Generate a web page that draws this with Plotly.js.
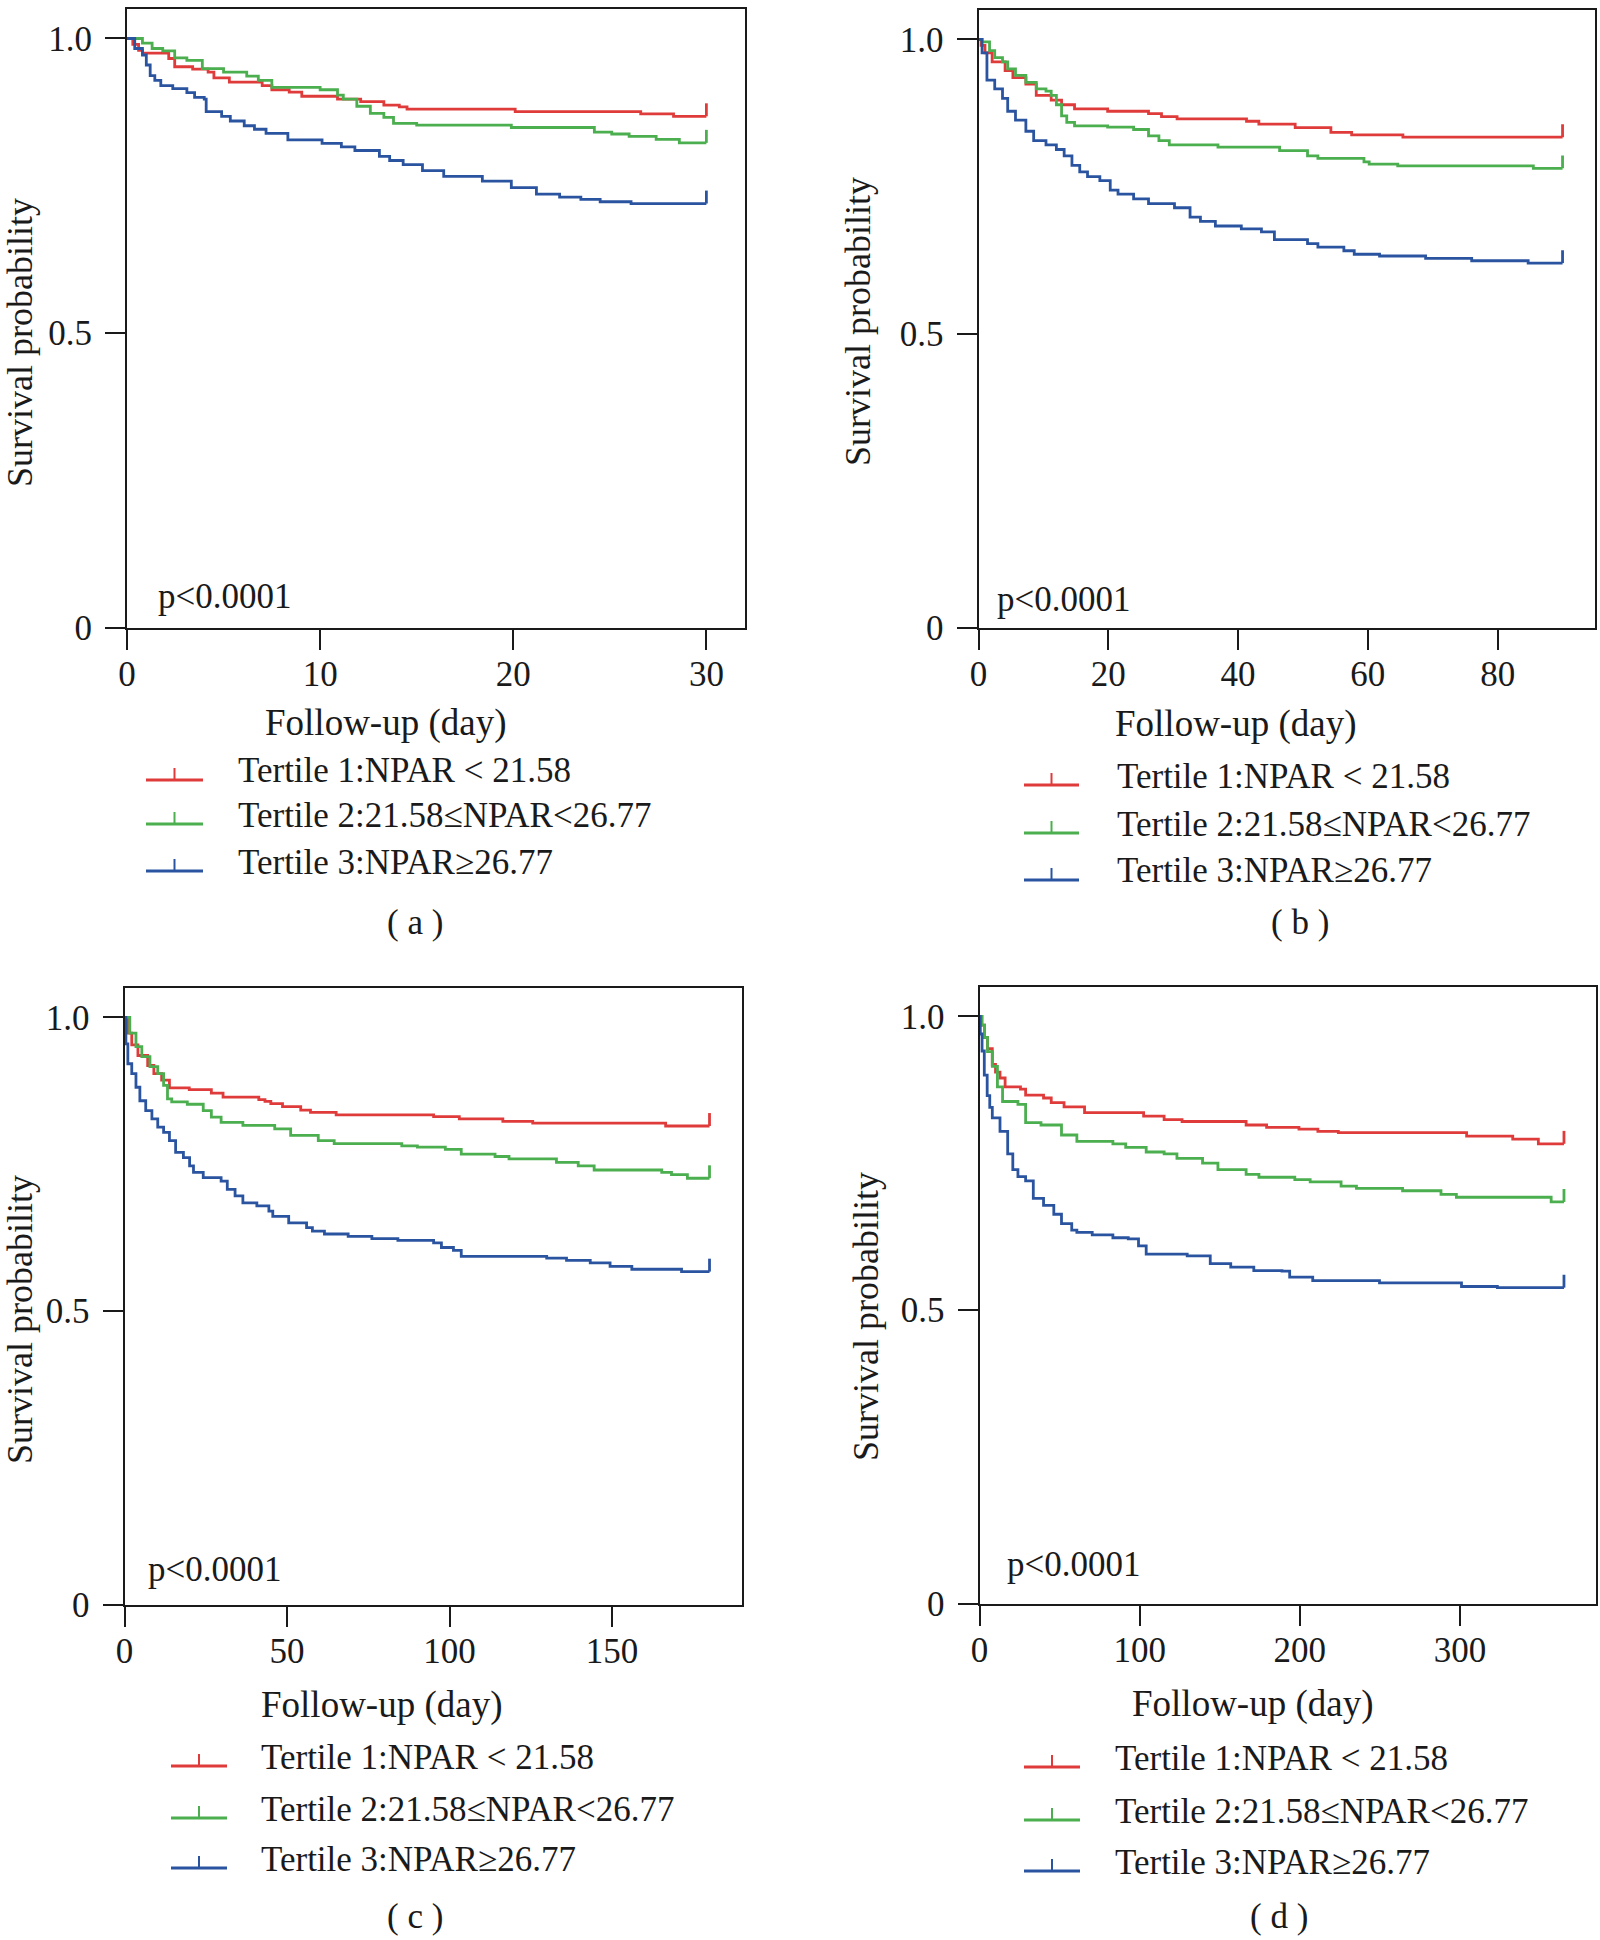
<!DOCTYPE html>
<html>
<head>
<meta charset="utf-8">
<script src="https://cdn.plot.ly/plotly-3.0.1.min.js"></script>
<style>
  body { margin: 0; background: #fff; }
  #plot { width: 1600px; height: 1940px; }
</style>
</head>
<body>
<div id="plot"></div>
<script>
// groups shared by all four panels
var groupNames = ["Tertile 1:NPAR < 21.58", "Tertile 2:21.58≤NPAR<26.77", "Tertile 3:NPAR≥26.77"];
var groupColors = ["#df3b3b", "#4bae4f", "#2b54a0"];
var panelLabels = ["( a )", "( b )", "( c )", "( d )"];
var pValueText = "p<0.0001";

// (a) 30-day follow-up
var a_t1_day  = [0, 0.3, 0.6, 0.8, 2.16, 2.47, 3.4, 4.2, 4.5, 5.3, 7.0, 7.5, 8.4, 9.05, 10.9, 12.1, 13.3, 14.1, 14.5, 20.1, 26.6, 28.3, 30];
var a_t1_surv = [1, 0.99, 0.98, 0.975, 0.966, 0.952, 0.948, 0.943, 0.933, 0.926, 0.92, 0.913, 0.909, 0.902, 0.897, 0.893, 0.887, 0.884, 0.88, 0.876, 0.872, 0.868, 0.868];
var a_t2_day  = [0, 0.8, 1.3, 1.85, 2.47, 3.1, 3.9, 5.0, 6.2, 6.8, 7.5, 10.0, 10.9, 11.2, 11.9, 12.6, 13.3, 13.8, 15.0, 19.9, 24.2, 25.1, 26.0, 27.4, 28.6, 30];
var a_t2_surv = [1, 0.992, 0.983, 0.979, 0.967, 0.963, 0.949, 0.943, 0.936, 0.929, 0.917, 0.913, 0.904, 0.897, 0.885, 0.873, 0.866, 0.856, 0.853, 0.849, 0.841, 0.838, 0.834, 0.829, 0.823, 0.823];
var a_t3_day  = [0, 0.4, 0.8, 1.0, 1.2, 1.44, 1.75, 2.37, 3.1, 3.5, 4.0, 4.1, 4.9, 5.35, 6.07, 6.6, 7.2, 8.33, 10.1, 11.1, 11.8, 13.07, 13.6, 14.3, 15.3, 16.4, 18.4, 19.9, 21.2, 22.4, 23.5, 24.5, 26.1, 30];
var a_t3_surv = [1, 0.983, 0.972, 0.955, 0.937, 0.929, 0.92, 0.915, 0.908, 0.9, 0.897, 0.876, 0.868, 0.86, 0.852, 0.846, 0.839, 0.828, 0.822, 0.816, 0.81, 0.8, 0.793, 0.786, 0.776, 0.766, 0.758, 0.747, 0.736, 0.731, 0.727, 0.723, 0.72, 0.72];

// (b) 90-day follow-up
var b_t1_day  = [0, 0.4, 1.0, 2.1, 4.1, 5.3, 7.3, 8.9, 11.2, 12.8, 14.8, 19.9, 26.2, 28.2, 30.6, 41.3, 43.2, 48.8, 54.3, 57.5, 65.4, 90];
var b_t1_surv = [1, 0.99, 0.977, 0.962, 0.947, 0.935, 0.924, 0.905, 0.897, 0.889, 0.882, 0.878, 0.874, 0.869, 0.865, 0.861, 0.856, 0.85, 0.842, 0.838, 0.834, 0.834];
var b_t2_day  = [0, 0.55, 1.7, 2.5, 3.7, 4.5, 5.7, 7.3, 8.9, 10.4, 11.2, 12.0, 12.8, 13.6, 14.8, 19.9, 23.9, 26.2, 27.8, 29.4, 36.9, 46.4, 50.7, 52.3, 59.4, 60.2, 64.6, 85.5, 90];
var b_t2_surv = [1, 0.996, 0.981, 0.969, 0.962, 0.95, 0.939, 0.927, 0.916, 0.912, 0.905, 0.889, 0.87, 0.859, 0.853, 0.851, 0.847, 0.836, 0.828, 0.821, 0.817, 0.811, 0.802, 0.798, 0.792, 0.788, 0.785, 0.781, 0.781];
var b_t3_day  = [0, 0.55, 1.3, 2.5, 3.7, 4.5, 5.7, 7.3, 8.5, 10.4, 12.0, 13.2, 14.4, 15.6, 16.8, 18.7, 20.3, 21.5, 23.9, 26.2, 30.2, 32.6, 34.2, 36.5, 40.5, 43.6, 45.6, 50.7, 52.3, 56.3, 57.9, 61.8, 68.9, 76.0, 84.7, 90];
var b_t3_surv = [1, 0.977, 0.931, 0.916, 0.9, 0.878, 0.863, 0.844, 0.828, 0.821, 0.813, 0.802, 0.786, 0.775, 0.767, 0.76, 0.744, 0.737, 0.729, 0.721, 0.714, 0.698, 0.691, 0.683, 0.678, 0.673, 0.66, 0.653, 0.647, 0.641, 0.635, 0.632, 0.628, 0.624, 0.62, 0.62];

// (c) 180-day follow-up
var c_t1_day  = [0, 1.0, 2.2, 4.1, 7.1, 9.0, 11.4, 13.8, 19.9, 26.7, 30.3, 41.3, 43.2, 45.0, 48.6, 54.2, 57.2, 65.1, 95.1, 103.0, 116.4, 125.6, 166.5, 180];
var c_t1_surv = [1, 0.973, 0.953, 0.935, 0.918, 0.904, 0.893, 0.88, 0.877, 0.871, 0.864, 0.86, 0.857, 0.853, 0.848, 0.842, 0.838, 0.834, 0.831, 0.827, 0.823, 0.82, 0.815, 0.815];
var c_t2_day  = [0, 1.6, 3.5, 5.3, 7.8, 10.2, 12.0, 13.2, 14.5, 19.3, 24.2, 26.7, 29.7, 36.4, 46.2, 51.1, 59.6, 64.5, 85.3, 90.1, 98.7, 103.6, 114.0, 118.3, 132.9, 139.6, 144.5, 165.3, 168.3, 173.2, 180];
var c_t2_surv = [1, 0.973, 0.95, 0.933, 0.916, 0.904, 0.884, 0.861, 0.856, 0.852, 0.841, 0.83, 0.821, 0.816, 0.81, 0.799, 0.79, 0.785, 0.781, 0.779, 0.775, 0.767, 0.763, 0.759, 0.753, 0.747, 0.74, 0.736, 0.732, 0.726, 0.726];
var c_t3_day  = [0, 0.4, 1.0, 2.2, 3.5, 4.7, 6.5, 8.4, 10.2, 12.0, 13.8, 15.7, 18.1, 20.0, 21.2, 24.2, 29.7, 31.6, 34.0, 36.4, 40.7, 44.4, 45.6, 50.5, 56.0, 57.8, 61.5, 68.8, 76.1, 84.1, 95.1, 97.5, 101.2, 103.6, 129.9, 136.0, 143.3, 149.4, 156.1, 171.4, 180];
var c_t3_surv = [1, 0.955, 0.921, 0.904, 0.881, 0.858, 0.841, 0.827, 0.813, 0.804, 0.79, 0.77, 0.761, 0.747, 0.736, 0.727, 0.721, 0.707, 0.696, 0.684, 0.679, 0.67, 0.661, 0.65, 0.642, 0.636, 0.631, 0.627, 0.623, 0.62, 0.616, 0.608, 0.603, 0.593, 0.59, 0.586, 0.582, 0.576, 0.571, 0.567, 0.567];

// (d) 365-day follow-up
var d_t1_day  = [0, 1.5, 3.2, 5.0, 8.0, 10.0, 12.8, 16.0, 25.6, 28.8, 40.0, 44.8, 52.8, 65.6, 102.5, 115.3, 126.5, 166.5, 179.3, 199.5, 211.3, 224.1, 304.2, 333.0, 349.0, 365];
var d_t1_surv = [1, 0.985, 0.964, 0.945, 0.918, 0.905, 0.895, 0.88, 0.876, 0.866, 0.861, 0.853, 0.846, 0.836, 0.83, 0.824, 0.821, 0.815, 0.811, 0.808, 0.804, 0.802, 0.796, 0.791, 0.783, 0.783];
var d_t2_day  = [0, 1.5, 3.2, 5.0, 8.0, 11.2, 14.4, 24.0, 28.8, 38.4, 51.2, 60.8, 83.3, 91.3, 104.1, 115.3, 123.3, 139.3, 148.9, 166.5, 174.5, 196.9, 206.5, 225.8, 235.4, 264.2, 288.2, 297.8, 357.0, 365];
var d_t2_surv = [1, 0.985, 0.964, 0.94, 0.915, 0.88, 0.855, 0.85, 0.819, 0.815, 0.798, 0.787, 0.783, 0.777, 0.769, 0.766, 0.758, 0.75, 0.739, 0.731, 0.726, 0.722, 0.718, 0.711, 0.707, 0.703, 0.697, 0.692, 0.684, 0.684];
var d_t3_day  = [0, 0.5, 1.6, 3.0, 4.8, 6.4, 8.0, 12.8, 17.6, 20.8, 24.0, 28.8, 33.6, 40.0, 46.4, 51.2, 57.6, 60.8, 70.4, 83.3, 92.9, 99.3, 104.1, 129.7, 144.1, 156.9, 171.3, 188.9, 193.7, 208.1, 249.8, 301.0, 323.4, 365];
var d_t3_surv = [1, 0.97, 0.941, 0.9, 0.865, 0.845, 0.827, 0.804, 0.766, 0.739, 0.727, 0.72, 0.69, 0.678, 0.663, 0.647, 0.636, 0.632, 0.628, 0.623, 0.621, 0.609, 0.595, 0.592, 0.579, 0.573, 0.567, 0.566, 0.556, 0.55, 0.546, 0.54, 0.538, 0.538];

var panelDays = [[a_t1_day, a_t2_day, a_t3_day], [b_t1_day, b_t2_day, b_t3_day], [c_t1_day, c_t2_day, c_t3_day], [d_t1_day, d_t2_day, d_t3_day]];
var panelSurv = [[a_t1_surv, a_t2_surv, a_t3_surv], [b_t1_surv, b_t2_surv, b_t3_surv], [c_t1_surv, c_t2_surv, c_t3_surv], [d_t1_surv, d_t2_surv, d_t3_surv]];
var xTicks = [[0, 10, 20, 30], [0, 20, 40, 60, 80], [0, 50, 100, 150], [0, 100, 200, 300]];
var xMax = [32, 95, 190, 385];

// page layout, in pixels of the 1600x1940 page
var W = 1600, H = 1940;
var boxes = [
  {l: 127, r: 745, t: 9, b: 628},
  {l: 978.5, r: 1595, t: 10, b: 628},
  {l: 124.6, r: 742, t: 988, b: 1604.5},
  {l: 979.5, r: 1596, t: 987, b: 1603.6}
];
var yTitlePos = [[20, 343], [858, 322], [20, 1320], [866, 1317]];
var xTitlePos = [[386, 723], [1236, 724], [382, 1705], [1253, 1704]];
var pPos = [[156, 596], [995, 599], [146, 1569], [1005, 1564]];
var capPos = [[415, 922], [1300, 922], [415, 1916], [1279, 1916]];
var legendPos = [
  {x0: 146, x1: 203, tx: 236, rows: [771, 815, 862]},
  {x0: 1024, x1: 1079, tx: 1115, rows: [776, 824, 871]},
  {x0: 171, x1: 227, tx: 259, rows: [1757, 1809, 1859]},
  {x0: 1024, x1: 1080, tx: 1113, rows: [1758, 1811, 1862]}
];

function px(x) { return x / W; }
function py(y) { return 1 - y / H; }

var serif = "Liberation Serif, Times New Roman, serif";
var ink = "#1a1a1a";
var censorTick = 0.022;

var traces = [];
var layout = {
  width: W, height: H,
  margin: {l: 0, r: 0, t: 0, b: 0},
  paper_bgcolor: "#fff", plot_bgcolor: "#fff",
  showlegend: false,
  font: {family: serif, color: ink},
  annotations: [],
  shapes: []
};

function textNote(txt, x, y, size, opts) {
  var a = {text: txt, x: px(x), y: py(y), xref: "paper", yref: "paper", showarrow: false,
    xanchor: "center", yanchor: "middle", font: {family: serif, size: size, color: ink}};
  for (var k in opts) a[k] = opts[k];
  layout.annotations.push(a);
}

panelDays.forEach(function(daysList, p) {
  var n = p === 0 ? "" : String(p + 1);
  var bx = boxes[p];
  layout["xaxis" + n] = {
    domain: [px(bx.l), px(bx.r)], range: [0, xMax[p]], anchor: "y" + n,
    tickvals: xTicks[p], ticks: "outside", ticklen: 20, tickwidth: 2, tickcolor: ink,
    showline: true, linewidth: 2, linecolor: ink, mirror: true,
    showgrid: false, zeroline: false, ticklabelstandoff: -6,
    tickfont: {family: serif, size: 35, color: ink}
  };
  layout["yaxis" + n] = {
    domain: [py(bx.b), py(bx.t)], range: [0, 1.05], anchor: "x" + n,
    tickvals: [0, 0.5, 1], ticktext: ["0", "0.5", "1.0"], ticks: "outside", ticklen: 20, tickwidth: 2, tickcolor: ink,
    showline: true, linewidth: 2, linecolor: ink, mirror: true,
    showgrid: false, zeroline: false, ticklabelstandoff: 6,
    tickfont: {family: serif, size: 35, color: ink}
  };

  daysList.forEach(function(days, g) {
    var surv = panelSurv[p][g];
    // censoring tick at the end of follow-up
    var up = days.map(function(d, i) { return i === days.length - 1 ? censorTick : 0; });
    traces.push({
      x: days, y: surv, type: "scatter", mode: "lines",
      name: groupNames[g],
      line: {shape: "hv", color: groupColors[g], width: 2.8},
      error_y: {type: "data", symmetric: false, array: up, arrayminus: days.map(function() { return 0; }),
        width: 0, thickness: 2.8, color: groupColors[g]},
      xaxis: "x" + n, yaxis: "y" + n, hoverinfo: "skip"
    });

    // hand-built legend entry
    var lg = legendPos[p], ly = lg.rows[g] + 9, mid = (lg.x0 + lg.x1) / 2;
    layout.shapes.push({type: "line", xref: "paper", yref: "paper", x0: px(lg.x0), x1: px(lg.x1), y0: py(ly), y1: py(ly),
      line: {color: groupColors[g], width: 2.8}});
    layout.shapes.push({type: "line", xref: "paper", yref: "paper", x0: px(mid), x1: px(mid), y0: py(ly), y1: py(ly - 12),
      line: {color: groupColors[g], width: 2}});
    textNote(groupNames[g], lg.tx, lg.rows[g], 35, {xanchor: "left"});
  });

  textNote("Survival probability", yTitlePos[p][0], yTitlePos[p][1], 36, {textangle: -90});
  textNote("Follow-up (day)", xTitlePos[p][0], xTitlePos[p][1], 37);
  textNote(pValueText, pPos[p][0], pPos[p][1], 35, {xanchor: "left"});
  textNote(panelLabels[p], capPos[p][0], capPos[p][1], 35);
});

Plotly.newPlot("plot", traces, layout, {staticPlot: true});
</script>
</body>
</html>
